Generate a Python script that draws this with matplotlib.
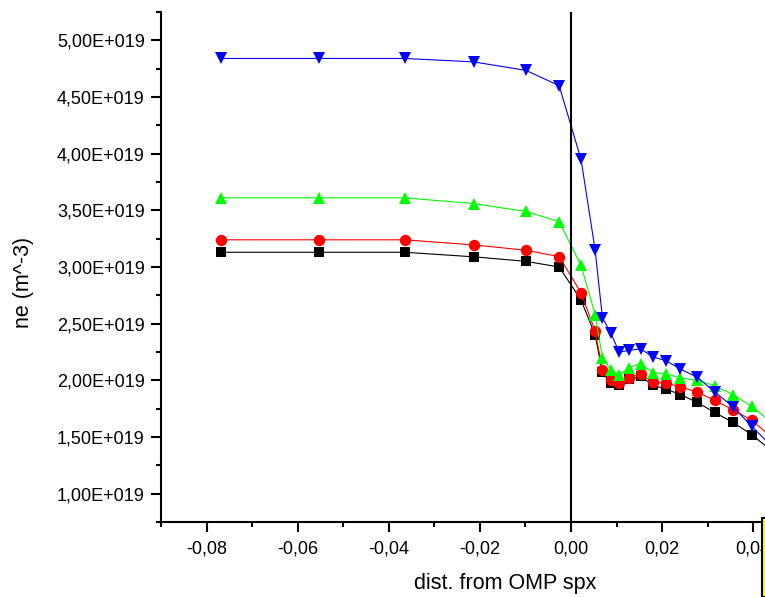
import matplotlib
matplotlib.use("Agg")
import matplotlib.pyplot as plt
from matplotlib.ticker import FuncFormatter, MultipleLocator
from matplotlib.patches import Rectangle

plt.rcParams['font.family'] = ['Liberation Sans', 'DejaVu Sans']

# distance from OMP separatrix (m)
x = [-0.0769, -0.0554, -0.0365, -0.0214, -0.0099, -0.0026, 0.0022, 0.0053,
     0.0069, 0.0087, 0.0106, 0.0127, 0.0153, 0.0180, 0.0208, 0.0240,
     0.0277, 0.0315, 0.0356, 0.0397, 0.0440]

# electron density, in units of 1e19 m^-3
ne_black = [3.13, 3.13, 3.13, 3.09, 3.05, 3.00, 2.71, 2.40, 2.07, 1.98, 1.96,
            2.01, 2.035, 1.956, 1.924, 1.874, 1.806, 1.717, 1.628, 1.52, 1.38]
ne_red = [3.24, 3.24, 3.24, 3.195, 3.148, 3.092, 2.773, 2.434, 2.095, 2.006, 1.977,
          2.021, 2.059, 1.982, 1.977, 1.942, 1.897, 1.823, 1.74, 1.646, 1.50]
ne_green = [3.61, 3.61, 3.61, 3.56, 3.49, 3.40, 3.015, 2.58, 2.198, 2.095, 2.05,
            2.11, 2.148, 2.066, 2.06, 2.021, 2.0, 1.953, 1.874, 1.77, 1.63]
ne_blue = [4.84, 4.84, 4.84, 4.81, 4.735, 4.60, 3.95, 3.15, 2.552, 2.42, 2.248,
           2.265, 2.278, 2.207, 2.174, 2.10, 2.027, 1.90, 1.765, 1.593, 1.42]

series = [
    (ne_black, '#000000', 's', 7.2),
    (ne_red, '#ff0000', 'o', 8.2),
    (ne_green, '#00ff00', '^', 8.8),
    (ne_blue, '#0000ff', 'v', 8.8),
]

W, H = 765, 597
fig = plt.figure(figsize=(W / 100, H / 100), dpi=100)

x0, x1 = -0.09, 0.06
y0, y1 = 0.75e19, 5.25e19
left_px, bottom_px, top_px = 161, 522, 12
px_per_unit = (571 - 161) / 0.09
right_px = left_px + (x1 - x0) * px_per_unit
ax = fig.add_axes([left_px / W, (H - bottom_px) / H,
                   (right_px - left_px) / W, (bottom_px - top_px) / H])
ax.set_clip_on(False)

for vals, col, mk, ms in series:
    ax.plot(x, [v * 1e19 for v in vals], color=col, lw=0.8, marker=mk,
            markersize=ms, markeredgewidth=0, markerfacecolor=col)

ax.axvline(0, color='black', lw=1.5)

ax.set_xlim(x0, x1)
ax.set_ylim(y0, y1)

for s in ['top', 'right']:
    ax.spines[s].set_visible(False)
for s in ['left', 'bottom']:
    ax.spines[s].set_linewidth(1.5)

ax.xaxis.set_major_locator(MultipleLocator(0.02))
ax.xaxis.set_minor_locator(MultipleLocator(0.01))
ax.yaxis.set_major_locator(MultipleLocator(0.5e19))
ax.yaxis.set_minor_locator(MultipleLocator(0.25e19))

ax.xaxis.set_major_formatter(FuncFormatter(lambda v, p: f"{v:.2f}".replace('.', ',').replace('-0,00', '0,00')))
ax.yaxis.set_major_formatter(FuncFormatter(lambda v, p: f"{v / 1e19:.2f}".replace('.', ',') + "E+019"))

ax.tick_params(which='major', direction='out', length=7.2, width=1.5, labelsize=13, pad=4.5)
ax.tick_params(which='minor', direction='out', length=3.5, width=1.5)
ax.tick_params(axis='x', which='major', pad=6)

fig.text(505 / W, 1 - 583 / H, "dist. from OMP spx", ha='center', va='center', fontsize=15.5)
fig.text(24 / W, 1 - 282 / H, "ne (m^-3)", ha='center', va='center', rotation=90, fontsize=15.5)

# partially visible legend box at the right edge
fig.patches.append(Rectangle((761.5 / W, 0), 10 / W, (H - 518) / H, transform=fig.transFigure,
                             facecolor='#ffff00', edgecolor='black', lw=1.5, figure=fig))

fig.savefig("out.png", dpi=100)
